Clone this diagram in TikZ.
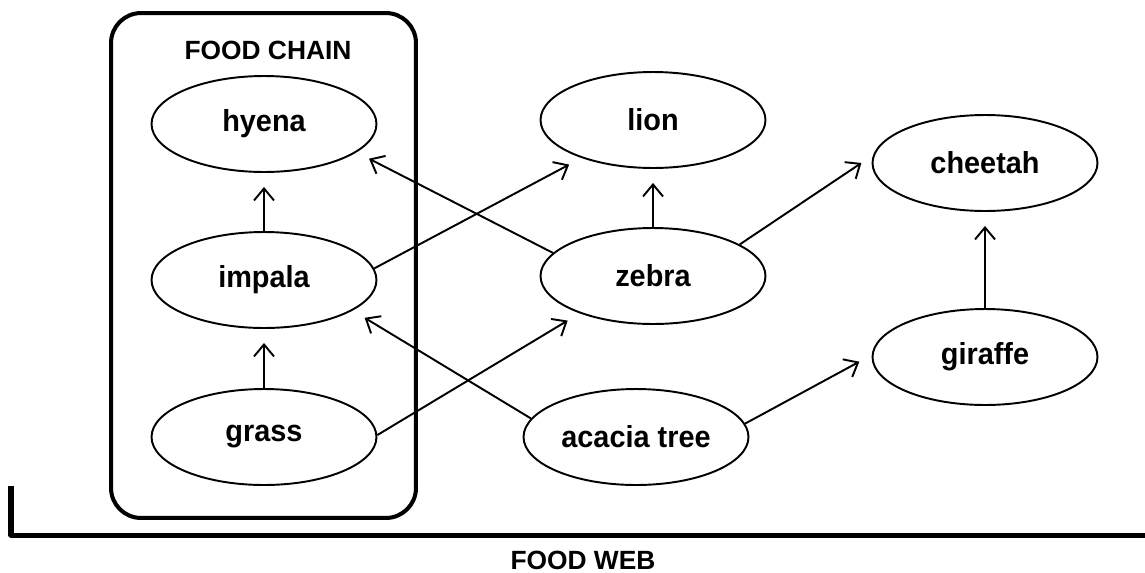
\documentclass[tikz,border=0pt]{standalone}
\usepackage{fontspec}
\setmainfont{Liberation Sans}
\newfontfamily\labelfont[FakeStretch=0.95]{Liberation Sans}
\usetikzlibrary{arrows.meta,shapes.geometric}
\tikzset{animal/.style={draw,ellipse,line width=1.1pt,minimum width=4.5cm,minimum height=1.92cm,inner sep=0pt,font=\labelfont\fontsize{17.3}{19}\selectfont\bfseries},
	eat/.style={->,line width=1.1pt,shorten >=0.28cm},
	title/.style={anchor=base,font=\fontsize{15}{17}\selectfont\bfseries}}
\begin{document}
\begin{tikzpicture}[>={Straight Barb[length=2.4mm,width=4mm]},line join=round,x=0.02cm,y=-0.02cm]
			\useasboundingbox (0,0) rectangle (1145,572);
			%Food chain
			\node[draw,rounded corners=0.6cm,line width=2.3pt,minimum width=6.1cm,minimum height=10.1cm] (chain) at (263.5,265.5) {};
			\node[title] (chaintitle) at (268,59) {FOOD CHAIN};
			\node[animal] (hyena) at (264,124) {hyena};
			\node[animal] (impala) at (264,280) {impala};
			\node[animal] (grass) at (264,437) {grass};
			%Food web
			\node[animal] (lion) at (653,120) {lion};
			\node[animal] (zebra) at (653,276) {zebra};
			\node[animal] (acacia) at (636,437) {acacia tree};
			\node[animal] (cheetah) at (985,163) {cheetah};
			\node[animal] (giraffe) at (985,357) {giraffe};
			\draw[line width=2.85pt] (11,486) |- (1145,535);
			\node[title] (webtitle) at (583,569) {FOOD WEB};
			%Who eats whom
			\draw[eat] (impala.north) -- (hyena.south);
			\draw[eat] (grass.north) -- (impala.south);
			\draw[eat] (zebra.north) -- (lion.south);
			\draw[eat] (giraffe.north) -- (cheetah.south);
			\draw[eat] (impala.6) -- (lion.208);
			\draw[eat] (zebra.167) -- (hyena.343);
			\draw[eat] (zebra.20) -- (cheetah.176);
			\draw[eat] (grass.1) -- (zebra.207);
			\draw[eat] (acacia.170) -- (impala.341);
			\draw[eat] (acacia.7) -- (giraffe.179);
		\end{tikzpicture}
\end{document}
